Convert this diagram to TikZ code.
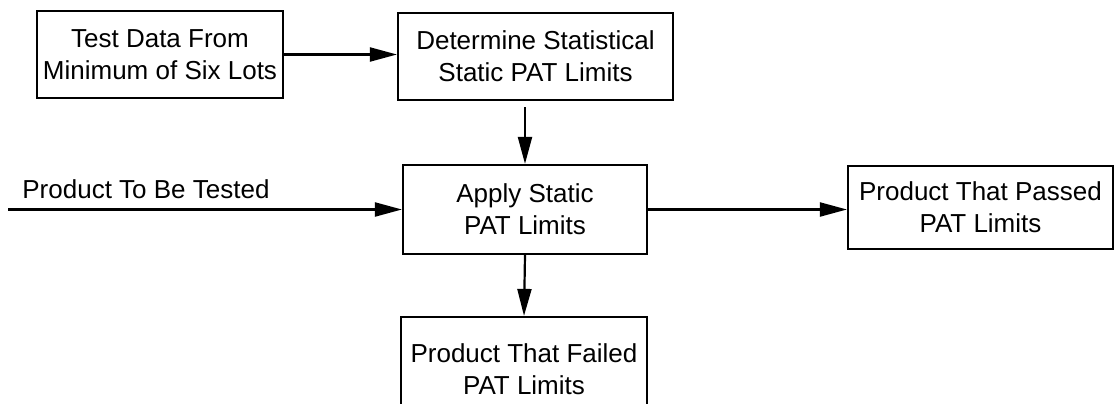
\documentclass[tikz,border=0pt]{standalone}
\usepackage{fontspec}
\setmainfont{Liberation Sans}
\usetikzlibrary{arrows.meta}

\begin{document}
\begin{tikzpicture}[x=0.5pt,y=-0.5pt]
  \tikzstyle{box}=[rectangle,draw,line width=1.1pt,align=center,inner sep=0pt,font=\fontsize{13}{16}\selectfont]
  \tikzstyle{tag}=[inner sep=0pt,font=\fontsize{13}{16}\selectfont]
  \tikzstyle{flow}=[draw,line width=1.1pt,-{Triangle[length=13.5pt,width=7pt]}]
  \useasboundingbox (0,0) rectangle (1116,403);
  \node [box,minimum width=123pt,minimum height=43.5pt]   (data)      at (160,54.5)  {Test Data From\\Minimum of Six Lots};
  \node [box,minimum width=137.5pt,minimum height=43.5pt] (determine) at (535.5,56.5) {Determine Statistical\\Static PAT Limits};
  \node [box,minimum width=122pt,minimum height=44.5pt]   (apply)     at (525,209.5) {Apply Static\\PAT Limits};
  \node [box,minimum width=132.5pt,minimum height=41.5pt] (passed)    at (980.5,207.5) {Product That Passed\\PAT Limits};
  \node [box,minimum width=123pt,minimum height=52pt]     (failed)    at (524,369)   {Product That Failed\\PAT Limits};
  \coordinate (input) at (8,209.5);
  \node [tag,anchor=base west] (inputlabel) at (22,198) {Product To Be Tested};
  \draw [flow] (data.east) -- (data.east -| determine.west);
  \draw [flow] ([yshift=-3pt]determine.south -| apply.north) -- (apply.north);
  \draw [flow] (input) -- (apply.west);
  \draw [flow] (apply.east) -- (apply.east -| passed.west);
  \draw [flow] (apply.south) -- (failed.north);
\end{tikzpicture}
\end{document}
